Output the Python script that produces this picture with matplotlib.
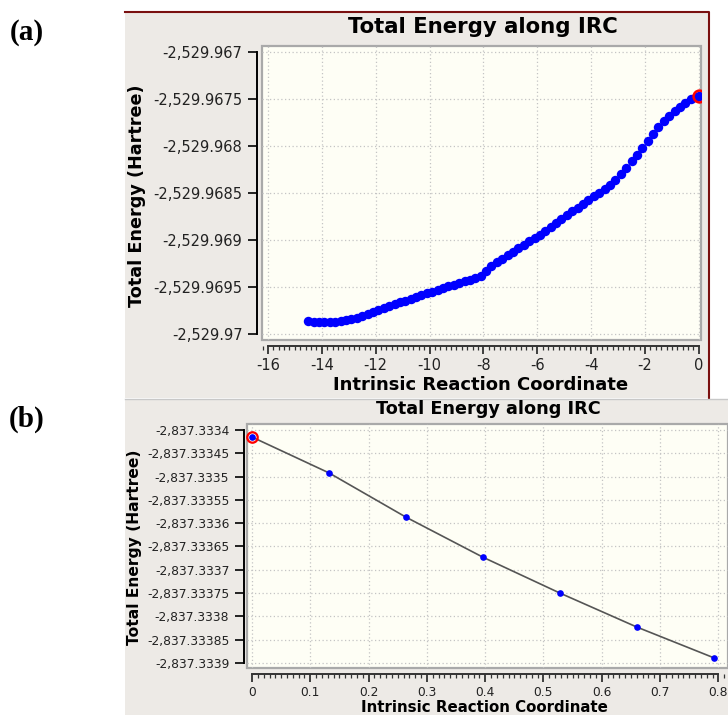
"""
Two-panel IRC energy profile (GaussView style screenshots).
"""
import matplotlib
matplotlib.use("Agg")
import matplotlib.pyplot as plt
import matplotlib.patches as patches
from matplotlib.ticker import FixedLocator, MultipleLocator, FuncFormatter

W, H = 728, 715

# ---- panel (a) data ----
IRC_A = [-14.5, -14.3, -14.1, -13.9, -13.7, -13.5, -13.3, -13.1, -12.9, -12.7,
         -12.5, -12.3, -12.1, -11.9, -11.7, -11.5, -11.3, -11.1, -10.9, -10.7,
         -10.5, -10.3, -10.1, -9.9, -9.7, -9.5, -9.3, -9.1, -8.9, -8.7,
         -8.5, -8.3, -8.1, -7.9, -7.7, -7.5, -7.3, -7.1, -6.9, -6.7,
         -6.5, -6.3, -6.1, -5.9, -5.7, -5.5, -5.3, -5.1, -4.9, -4.7,
         -4.5, -4.3, -4.1, -3.9, -3.7, -3.5, -3.3, -3.1, -2.9, -2.7,
         -2.5, -2.3, -2.1, -1.9, -1.7, -1.5, -1.3, -1.1, -0.9, -0.7,
         -0.5, -0.3, -0.1, 0.0]
ENERGIA_A = [-2529.969856, -2529.969867, -2529.969872, -2529.969872, -2529.969872,
             -2529.969867, -2529.969856, -2529.969846, -2529.969835, -2529.969824,
             -2529.969809, -2529.969787, -2529.969766, -2529.969745, -2529.969723,
             -2529.969702, -2529.969681, -2529.969660, -2529.969644, -2529.969628,
             -2529.969606, -2529.969585, -2529.969564, -2529.969548, -2529.969527,
             -2529.969511, -2529.969489, -2529.969473, -2529.969457, -2529.969436,
             -2529.969420, -2529.969404, -2529.969378, -2529.969325, -2529.969277,
             -2529.969234, -2529.969197, -2529.969160, -2529.969122, -2529.969085,
             -2529.969048, -2529.969011, -2529.968979, -2529.968942, -2529.968899,
             -2529.968856, -2529.968814, -2529.968771, -2529.968734, -2529.968691,
             -2529.968654, -2529.968617, -2529.968574, -2529.968537, -2529.968500,
             -2529.968457, -2529.968410, -2529.968362, -2529.968303, -2529.968234,
             -2529.968160, -2529.968096, -2529.968021, -2529.967947, -2529.967872,
             -2529.967803, -2529.967739, -2529.967681, -2529.967633, -2529.967585,
             -2529.967543, -2529.967505, -2529.967479, -2529.967468]
YTICKS_A = [-2529.967, -2529.9675, -2529.968, -2529.9685, -2529.969, -2529.9695, -2529.97]
XTICKS_A = [-16, -14, -12, -10, -8, -6, -4, -2, 0]

# ---- panel (b) data ----
IRC_B = [0.0, 0.132, 0.264, 0.396, 0.528, 0.660, 0.792]
ENERGIA_B = [-2837.333415, -2837.333492, -2837.333587, -2837.333673,
             -2837.333750, -2837.333823, -2837.333889]
YTICKS_B = [-2837.3334, -2837.33345, -2837.3335, -2837.33355, -2837.3336,
            -2837.33365, -2837.3337, -2837.33375, -2837.3338, -2837.33385, -2837.3339]
XTICKS_B = [0, 0.1, 0.2, 0.3, 0.4, 0.5, 0.6, 0.7, 0.8]

TITULO = "Total Energy along IRC"
XLAB = "Intrinsic Reaction Coordinate"
YLAB = "Total Energy (Hartree)"

FONDO_PANEL = "#edeae6"
FONDO_GRAF = "#fefef5"
AZUL = "#0000ff"


def caja(x0, y0, x1, y1):
    """Pixel box (top-left origin) -> figure fraction rect."""
    return [x0 / W, 1 - y1 / H, (x1 - x0) / W, (y1 - y0) / H]


def fx(x):
    return x / W


def fy(y):
    return 1 - y / H


def etiqueta(v, pos=None):
    s = f"{v:,.6f}".rstrip("0").rstrip(".")
    return "0" if s in ("-0", "") else s


def fondo(fig, x0, y0, x1, y1, color):
    r = caja(x0, y0, x1, y1)
    fig.patches.append(patches.Rectangle((r[0], r[1]), r[2], r[3], transform=fig.transFigure,
                                         facecolor=color, edgecolor="none", zorder=-10))


def preparar(ax, xt, yt, xlim, ylim, fs, out_y, out_x, minor):
    ax.set_facecolor(FONDO_GRAF)
    ax.set_xlim(*xlim)
    ax.set_ylim(*ylim)
    ax.yaxis.set_major_locator(FixedLocator(yt))
    ax.xaxis.set_major_locator(FixedLocator(xt))
    ax.xaxis.set_minor_locator(MultipleLocator(minor))
    ax.yaxis.set_major_formatter(FuncFormatter(etiqueta))
    ax.xaxis.set_major_formatter(FuncFormatter(etiqueta))
    for s in ("top", "right"):
        ax.spines[s].set_visible(False)
    ax.spines["left"].set_position(("outward", out_y))
    ax.spines["bottom"].set_position(("outward", out_x))
    ax.spines["left"].set_bounds(yt[-1], yt[0])
    ax.spines["bottom"].set_bounds(xt[0], xt[-1])
    ax.spines["left"].set_linewidth(1.4)
    ax.spines["bottom"].set_linewidth(1.4)
    ax.spines["bottom"].set_color("#333333")
    ax.tick_params(axis="y", length=6.5, width=1.4, pad=4, labelsize=fs, colors="#222222")
    ax.tick_params(axis="x", which="major", length=6, width=1.2, pad=3, labelsize=fs,
                   colors="#222222")
    ax.tick_params(axis="x", which="minor", length=3, width=0.9, colors="#333333")
    ax.grid(True, which="major", linestyle=(0, (1, 2)), color="#c4c4c4", linewidth=0.9)
    ax.set_axisbelow(True)
    ax.add_patch(patches.Rectangle((0, 0), 1, 1, transform=ax.transAxes, fill=False,
                                   edgecolor="#a9a9a9", linewidth=1.6, clip_on=False,
                                   zorder=0.5))


def main():
    plt.rcParams["font.family"] = ["DejaVu Sans"]
    fig = plt.figure(figsize=(W / 100, H / 100), dpi=100)

    # fondos de los paneles
    fondo(fig, 125, 12, 709, 398, FONDO_PANEL)
    fondo(fig, 125, 399, 728, 715, FONDO_PANEL)
    fig.lines.append(plt.Line2D([fx(125), fx(709), fx(709)], [fy(12), fy(12), fy(398)],
                                transform=fig.transFigure, color="#7a1010", linewidth=1.5,
                                zorder=-5))
    fig.lines.append(plt.Line2D([fx(125), fx(728)], [fy(399), fy(399)],
                                transform=fig.transFigure, color="#c8c8c8", linewidth=1.0,
                                zorder=-5))

    # ---- (a) ----
    ax1 = fig.add_axes(caja(262, 46, 701, 340))
    preparar(ax1, XTICKS_A, YTICKS_A, (-16.22, 0.08), (-2529.97006, -2529.96694),
             10.5, 3.6, 4.3, 0.2)
    ax1.plot(IRC_A, ENERGIA_A, "o", color=AZUL, markersize=6.8, markeredgewidth=0, zorder=3)
    ax1.plot(IRC_A[-1:], ENERGIA_A[-1:], "o", mfc="none", mec="red", markersize=8.5,
             markeredgewidth=1.8, zorder=4)

    fig.text(fx(483), fy(27), TITULO, ha="center", va="center", fontsize=15.3,
             fontweight="bold")
    fig.text(fx(481), fy(385), XLAB, ha="center", va="center", fontsize=13,
             fontweight="bold")
    fig.text(fx(137), fy(196), YLAB, ha="center", va="center", fontsize=12.7,
             fontweight="bold", rotation=90)

    # ---- (b) ----
    ax2 = fig.add_axes(caja(247, 424, 728, 668))
    preparar(ax2, XTICKS_B, YTICKS_B, (-0.0086, 0.8165), (-2837.333911, -2837.333387),
             8.8, 2.2, 4.3, 0.01)
    ax2.plot(IRC_B, ENERGIA_B, "-", color="#555555", linewidth=1.2, zorder=2)
    ax2.plot(IRC_B, ENERGIA_B, "o", color=AZUL, markersize=4.8, markeredgewidth=0, zorder=3)
    ax2.plot(IRC_B[:1], ENERGIA_B[:1], "o", mfc="none", mec="red", markersize=7.5,
             markeredgewidth=1.6, zorder=4, clip_on=False)

    fig.text(fx(488), fy(409), TITULO, ha="center", va="center", fontsize=12.7,
             fontweight="bold")
    fig.text(fx(484), fy(708), XLAB, ha="center", va="center", fontsize=10.8,
             fontweight="bold")
    fig.text(fx(135), fy(547), YLAB, ha="center", va="center", fontsize=11.2,
             fontweight="bold", rotation=90)

    # etiquetas de panel
    for txt, y in (("(a)", 32), ("(b)", 419)):
        fig.text(fx(27), fy(y), txt, ha="center", va="center", fontsize=21,
                 fontweight="bold", family=["Liberation Serif", "DejaVu Serif"])

    fig.savefig("out.png", dpi=100)
    plt.close(fig)


if __name__ == "__main__":
    main()
